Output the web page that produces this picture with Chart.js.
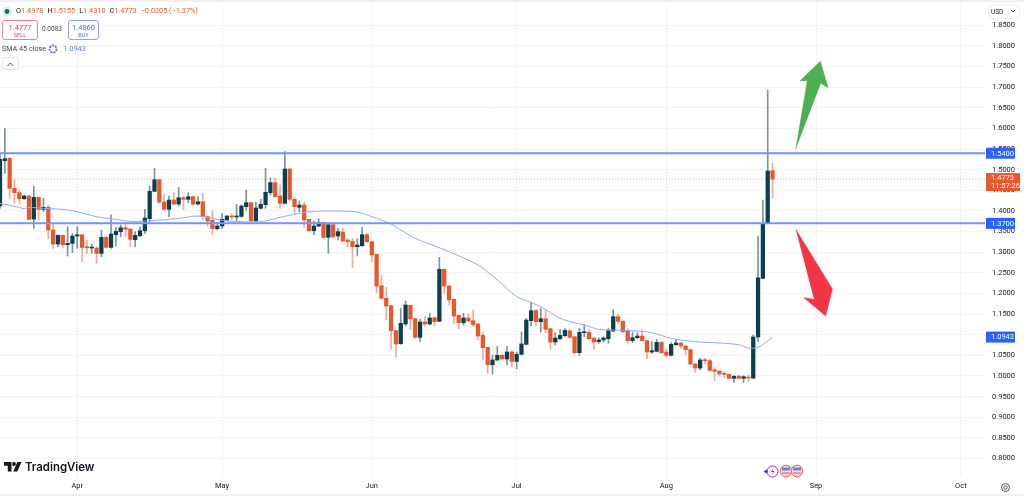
<!DOCTYPE html>
<html>
<head>
<meta charset="utf-8">
<style>
html, body { margin: 0; padding: 0; background: #fff; overflow: hidden; }
#wrap { position: relative; width: 1024px; height: 496px; font-family: Roboto, sans-serif; color: #131722; }
#c { position: absolute; left: 0; top: 0; }
.abs { position: absolute; white-space: nowrap; }
.ohlc { left: 16px; top: 6px; font-size: 7.3px; line-height: 10px; color: #e8582a; }
.ohlc b { font-weight: 400; color: #131722; }
.ohlc i { font-style: normal; margin-left: 4px; }
.box { border: 1px solid; border-radius: 3px; text-align: center; box-sizing: border-box; background: #fff; }
.box div { font-size: 7.5px; line-height: 9px; margin-top: 2px; }
.box span { display: block; font-size: 5.5px; line-height: 7px; }
.sma { left: 2px; top: 44px; font-size: 7.2px; line-height: 10px; color: #434651; }
.smaval { left: 63px; top: 44px; font-size: 7.5px; line-height: 10px; color: #5b82f0; }
.logo { left: 25px; top: 458px; font: 600 11.4px/18px Inter, sans-serif; color: #131722; }
.usd { left: 988px; top: 5px; width: 32px; height: 14px; border: 1px solid #eceef2; border-radius: 3px; box-sizing: border-box; font-size: 6.5px; line-height: 12px; padding-left: 2px; }
</style>
</head>
<body>
<div id="wrap">
  <canvas id="c" width="1024" height="496"></canvas>
  <div class="abs" style="left:0;top:0;width:1024px;height:2px;background:#eef0f3"></div>
  <div class="abs" style="left:0;top:494px;width:1024px;height:2px;background:#eef0f3"></div>
  <svg class="abs" style="left:1px;top:6px" width="12" height="12"><circle cx="6" cy="5.5" r="5" fill="#dcecea"/><circle cx="6" cy="5.5" r="2.4" fill="#0f6e62"/></svg>
  <div class="abs ohlc"><b>O</b>1.4978<i></i><b>H</b>1.5155<i></i><b>L</b>1.4310<i></i><b>C</b>1.4773<i></i>−0.0205 (−1.37%)</div>
  <div class="abs box" style="left:2px;top:20px;width:36px;height:20px;border-color:#f7828c;color:#f0455a"><div>1.4777<span>SELL</span></div></div>
  <div class="abs" style="left:42px;top:25px;font-size:6.5px;line-height:9px;color:#434651">0.0083</div>
  <div class="abs box" style="left:68px;top:20px;width:31px;height:20px;border-color:#8aa5f7;color:#4a78ee"><div>1.4860<span>BUY</span></div></div>
  <div class="abs sma">SMA 45 close</div>
  <svg class="abs" style="left:47px;top:43px" width="12" height="12"><circle cx="6" cy="6" r="3.5" fill="none" stroke="#7e6bf0" stroke-width="2" stroke-dasharray="2 1"/></svg>
  <div class="abs smaval">1.0943</div>
  <div class="abs box" style="left:2px;top:57px;width:17px;height:13px;border-color:#e4e6ea;color:#434651"><svg width="9" height="7" style="display:block;margin:3px auto"><path d="M1.5 5 L4.5 2 L7.5 5" fill="none" stroke="#434651" stroke-width="1"/></svg></div>
  <svg class="abs" style="left:4px;top:462px" width="18" height="11"><path d="M0 0h7.5v9.5h-3.7v-5.8H0z M8 0 h9.5 l-4.2 9.5 h-4 l4-9.5z" fill="#131722"/><circle cx="10" cy="2" r="1.9" fill="#131722"/></svg>
  <div class="abs logo">TradingView</div>
  <svg class="abs" style="left:763px;top:463px" width="42" height="17">
    <circle cx="9.5" cy="8.5" r="5.5" fill="#fff" stroke="#9c27b0" stroke-width="1"/>
    <path d="M10.5 5 L8 9 H10 L8.8 12 L11.5 8 H9.6z" fill="#9c27b0"/>
    <rect x="1.5" y="7" width="3" height="3" fill="#5e35b1" transform="rotate(45 3 8.5)"/>
    <circle cx="23" cy="8" r="5.8" fill="#fbd5d5" stroke="#f2605f" stroke-width="1"/><rect x="19" y="4.5" width="8" height="3" fill="#4e8fe8"/><rect x="19" y="9.5" width="8" height="1.2" fill="#f2605f"/>
    <circle cx="34" cy="8" r="5.8" fill="#fbd5d5" stroke="#f2605f" stroke-width="1"/><rect x="30" y="4.5" width="8" height="3" fill="#4e8fe8"/><rect x="30" y="9.5" width="8" height="1.2" fill="#f2605f"/>
  </svg>
  <div class="abs usd">USD<svg width="6" height="4" style="margin-left:7px;vertical-align:1px"><path d="M1 1 L3 3 L5 1" fill="none" stroke="#434651"/></svg></div>
  <svg class="abs" style="left:1000px;top:482px" width="11" height="11"><circle cx="5.5" cy="5.5" r="4" fill="none" stroke="#50535e"/><circle cx="5.5" cy="5.5" r="1.7" fill="none" stroke="#50535e"/></svg>
</div>
<script src="https://cdn.jsdelivr.net/npm/chart.js@4"></script>
<script>
// day numbers count from 1 Apr, first candle is 16 Mar
const FIRST_DAY = -16;
const monthDays = [0, 30, 61, 91, 122, 153, 183];
const monthNames = ['Apr', 'May', 'Jun', 'Jul', 'Aug', 'Sep', 'Oct'];
const priceTicks = [0.80, 0.85, 0.90, 0.95, 1.00, 1.05, 1.10, 1.15, 1.20, 1.25, 1.30, 1.35, 1.40, 1.45, 1.50, 1.55, 1.60, 1.65, 1.70, 1.75, 1.80, 1.85];

const opens = [
  1.4119, 1.5218, 1.5275, 1.4548, 1.4443, 1.4297, 1.4362, 1.3804, 1.4329, 1.4039, 1.4087, 1.3538, 1.3198, 1.3408, 1.3182, 1.3214,
  1.3392, 1.3424, 1.3125, 1.3101, 1.3101, 1.2972, 1.3360, 1.3117, 1.3424, 1.3497, 1.3594, 1.3562, 1.3303, 1.3400, 1.3521, 1.3812,
  1.4475, 1.4758, 1.4216, 1.4039, 1.4265, 1.4168, 1.4321, 1.4281, 1.4346, 1.4168, 1.4225, 1.3862, 1.3773, 1.3571, 1.3635, 1.3781,
  1.3878, 1.3854, 1.3870, 1.4104, 1.4201, 1.3757, 1.4064, 1.4153, 1.4443, 1.4686, 1.4363, 1.4185, 1.5017, 1.4282, 1.4088, 1.4144,
  1.3797, 1.3522, 1.3635, 1.3716, 1.3361, 1.3668, 1.3393, 1.3490, 1.3296, 1.3264, 1.3134, 1.3159, 1.3425, 1.3256, 1.2949, 1.2190,
  1.1883, 1.1705, 1.1099, 1.0784, 1.1261, 1.1713, 1.1390, 1.0937, 1.1309, 1.1261, 1.1414, 1.1325, 1.2586, 1.2182, 1.1858, 1.1470,
  1.1293, 1.1406, 1.1341, 1.1261, 1.0986, 1.0695, 1.0275, 1.0388, 1.0501, 1.0412, 1.0582, 1.0355, 1.0525, 1.0768, 1.1341, 1.1583,
  1.1316, 1.1389, 1.1147, 1.0824, 1.0904, 1.0977, 1.1098, 1.0953, 1.0565, 1.1050, 1.1058, 1.0921, 1.0832, 1.0872, 1.0904, 1.1090,
  1.1438, 1.1324, 1.1082, 1.0856, 1.0929, 1.0969, 1.0856, 1.0581, 1.0597, 1.0815, 1.0581, 1.0500, 1.0759, 1.0799, 1.0727, 1.0638,
  1.0290, 1.0193, 1.0395, 1.0371, 1.0153, 1.0121, 1.0064, 1.0040, 0.9943, 0.9999, 0.9943, 0.9967, 0.9950, 1.0945, 1.2366, 1.3699, 1.4978
];
const closes = [
  1.5251, 1.5267, 1.4548, 1.4443, 1.4297, 1.4362, 1.3796, 1.4329, 1.4039, 1.4087, 1.3538, 1.3198, 1.3408, 1.3182, 1.3214, 1.3392,
  1.3424, 1.3117, 1.3109, 1.3117, 1.2972, 1.3360, 1.3117, 1.3441, 1.3505, 1.3594, 1.3554, 1.3311, 1.3408, 1.3521, 1.3828, 1.4475,
  1.4758, 1.4216, 1.4039, 1.4265, 1.4168, 1.4321, 1.4281, 1.4346, 1.4168, 1.4224, 1.3862, 1.3757, 1.3571, 1.3635, 1.3797, 1.3878,
  1.3854, 1.3878, 1.4120, 1.4201, 1.3757, 1.4072, 1.4161, 1.4451, 1.4686, 1.4346, 1.4185, 1.5017, 1.4282, 1.4104, 1.4144, 1.3781,
  1.3522, 1.3635, 1.3716, 1.3361, 1.3668, 1.3377, 1.3498, 1.3272, 1.3256, 1.3134, 1.3175, 1.3425, 1.3256, 1.2932, 1.2182, 1.1883,
  1.1697, 1.1099, 1.0776, 1.1277, 1.1721, 1.1382, 1.0937, 1.1309, 1.1261, 1.1406, 1.1317, 1.2586, 1.2182, 1.1842, 1.1454, 1.1293,
  1.1406, 1.1333, 1.1244, 1.0970, 1.0687, 1.0275, 1.0388, 1.0501, 1.0412, 1.0582, 1.0355, 1.0525, 1.0776, 1.1357, 1.1583, 1.1316,
  1.1389, 1.1131, 1.0824, 1.0921, 1.0985, 1.1106, 1.0937, 1.0565, 1.1058, 1.1066, 1.0904, 1.0824, 1.0872, 1.0921, 1.1098, 1.1438,
  1.1324, 1.1074, 1.0856, 1.0929, 1.0969, 1.0856, 1.0581, 1.0613, 1.0815, 1.0565, 1.0500, 1.0767, 1.0799, 1.0727, 1.0638, 1.0290,
  1.0193, 1.0387, 1.0371, 1.0137, 1.0113, 1.0048, 1.0040, 0.9943, 0.9991, 0.9943, 0.9983, 0.9950, 1.0945, 1.2380, 1.3699, 1.4968, 1.4773
];
const highs = [
  1.5396, 1.5998, 1.5299, 1.4750, 1.4507, 1.4386, 1.4378, 1.4604, 1.4346, 1.4305, 1.4144, 1.3699, 1.3424, 1.3416, 1.3618, 1.3457,
  1.3618, 1.3432, 1.3295, 1.3198, 1.3134, 1.3538, 1.3376, 1.3901, 1.3602, 1.3659, 1.3699, 1.3578, 1.3497, 1.3618, 1.4039, 1.4604,
  1.5032, 1.4766, 1.4410, 1.4362, 1.4443, 1.4572, 1.4362, 1.4443, 1.4362, 1.4346, 1.4427, 1.3878, 1.4007, 1.3720, 1.3942, 1.3886,
  1.3926, 1.4161, 1.4144, 1.4508, 1.4217, 1.4217, 1.4282, 1.5033, 1.4807, 1.4791, 1.4629, 1.5437, 1.5033, 1.4330, 1.4241, 1.4225,
  1.3797, 1.3757, 1.3813, 1.3732, 1.3676, 1.3676, 1.3579, 1.3579, 1.3328, 1.3328, 1.3328, 1.3603, 1.3458, 1.3256, 1.2957, 1.2432,
  1.2149, 1.1713, 1.1107, 1.1640, 1.1818, 1.1721, 1.1398, 1.1374, 1.1438, 1.1519, 1.1438, 1.2876, 1.2594, 1.2190, 1.1866, 1.1478,
  1.1519, 1.1519, 1.1600, 1.1277, 1.1050, 1.0703, 1.0509, 1.0711, 1.0533, 1.0711, 1.0614, 1.0582, 1.1067, 1.1398, 1.1793, 1.1615,
  1.1640, 1.1615, 1.1155, 1.1050, 1.1131, 1.1147, 1.1114, 1.0953, 1.1155, 1.1244, 1.1131, 1.0921, 1.0929, 1.0953, 1.1163, 1.1599,
  1.1502, 1.1357, 1.1147, 1.1066, 1.1050, 1.1114, 1.0872, 1.0832, 1.0888, 1.0832, 1.0646, 1.0807, 1.0888, 1.0807, 1.0743, 1.0646,
  1.0306, 1.0428, 1.0428, 1.0403, 1.0210, 1.0121, 1.0104, 1.0048, 1.0016, 1.0007, 1.0007, 1.0024, 1.0993, 1.3390, 1.4265, 1.6931, 1.5155
];
const lows = [
  1.4063, 1.4911, 1.4305, 1.4184, 1.4184, 1.4281, 1.3780, 1.3578, 1.3780, 1.3982, 1.3336, 1.3093, 1.3134, 1.3117, 1.2907, 1.2988,
  1.3093, 1.2770, 1.2972, 1.2972, 1.2730, 1.2891, 1.3101, 1.3093, 1.3150, 1.3376, 1.3376, 1.3134, 1.3134, 1.3376, 1.3457, 1.3740,
  1.4467, 1.4184, 1.4022, 1.3861, 1.4144, 1.4119, 1.4039, 1.4200, 1.4136, 1.4144, 1.3781, 1.3635, 1.3417, 1.3538, 1.3579, 1.3773,
  1.3781, 1.3765, 1.3845, 1.4023, 1.3740, 1.3740, 1.4047, 1.4064, 1.4387, 1.4330, 1.4064, 1.4169, 1.4250, 1.3926, 1.3983, 1.3603,
  1.3498, 1.3417, 1.3619, 1.3336, 1.2973, 1.3344, 1.3296, 1.3256, 1.3134, 1.2633, 1.2908, 1.3134, 1.3231, 1.2771, 1.2020, 1.1858,
  1.1357, 1.0646, 1.0452, 1.0768, 1.1212, 1.1131, 1.0913, 1.0832, 1.1212, 1.1236, 1.1212, 1.1317, 1.2004, 1.1721, 1.1277, 1.1147,
  1.1236, 1.1309, 1.1196, 1.0873, 1.0404, 1.0065, 1.0048, 1.0372, 1.0404, 1.0267, 1.0226, 1.0178, 1.0509, 1.0751, 1.1211, 1.1211,
  1.1058, 1.1050, 1.0646, 1.0751, 1.0872, 1.0953, 1.0912, 1.0533, 1.0500, 1.0953, 1.0856, 1.0646, 1.0791, 1.0824, 1.0791, 1.1074,
  1.1260, 1.1050, 1.0807, 1.0807, 1.0904, 1.0840, 1.0420, 1.0549, 1.0581, 1.0533, 1.0468, 1.0484, 1.0743, 1.0670, 1.0508, 1.0274,
  1.0088, 1.0145, 1.0290, 1.0121, 0.9886, 1.0016, 0.9967, 0.9935, 0.9838, 0.9927, 0.9838, 0.9854, 0.9935, 1.0830, 1.2360, 1.3690, 1.4310
];

const smaDays = [-16, -12, -11, -10, -7, -3, 0, 4, 8, 11, 13, 17, 21, 25, 28, 31, 38, 42, 46, 49, 53, 58, 61, 65, 67, 70, 74, 77, 83, 87, 91, 93, 96, 100, 105, 108, 111, 115, 119, 123, 128, 132, 137, 139, 141, 144];
const smaValues = [1.4184, 1.4087, 1.4055, 1.4087, 1.4063, 1.4039, 1.3982, 1.3861, 1.3796, 1.3748, 1.3748, 1.3780, 1.3820, 1.3877, 1.3820, 1.3757, 1.3740, 1.3845, 1.3942, 1.3990, 1.3999, 1.3975, 1.3860, 1.3684, 1.3538, 1.3337, 1.3151, 1.3014, 1.2690, 1.2327, 1.1923, 1.1826, 1.1680, 1.1397, 1.1236, 1.1131, 1.1114, 1.1098, 1.1050, 1.0912, 1.0832, 1.0807, 1.0759, 1.0678, 1.0694, 1.0943];

const levels = [1.54, 1.37];
const lastClose = 1.4773;
const greenArrowDays = [148.8, 151.2, 149.7, 153.9, 155.5, 154.0];
const greenArrowPrices = [1.5494, 1.7157, 1.7157, 1.7627, 1.6987, 1.7094];
const redArrowDays = [148.8, 156.4, 155.0, 150.5, 152.6];
const redArrowPrices = [1.3555, 1.2109, 1.1454, 1.1898, 1.1859];

const X_MIN = -16, X_MAX = 188;
const UP = '#0b3f4f', DOWN = '#e8582a';
const UP_WICK = 'rgba(11,63,79,0.55)', DOWN_WICK = 'rgba(232,88,42,0.5)';
const BLUE = '#6f95f7';

function pairs(xs, ys) {
  return xs.map((x, i) => ({ x: x, y: ys[i] }));
}

function hLine(value, color, width, dash, order) {
  return {
    type: 'line',
    data: [{ x: X_MIN, y: value }, { x: X_MAX, y: value }],
    borderColor: color,
    borderWidth: width,
    borderDash: dash,
    pointRadius: 0,
    order: order
  };
}

function arrow(days, prices, color) {
  return {
    type: 'line',
    data: pairs(days, prices),
    backgroundColor: color,
    borderColor: color,
    borderWidth: 0.5,
    fill: 'shape',
    tension: 0,
    pointRadius: 0,
    order: 0
  };
}

const isUp = closes.map((c, i) => c >= opens[i]);

// price badges on the axis, text is placed from the y scale
const badges = {
  id: 'badges',
  afterDraw(chart) {
    const ctx = chart.ctx;
    const y = chart.scales.y;
    ctx.save();
    ctx.textBaseline = 'middle';
    ctx.font = '7.5px Roboto';
    [levels[0], levels[1], smaValues[smaValues.length - 1]].forEach(v => {
      const py = y.getPixelForValue(v);
      ctx.fillStyle = '#2962ff';
      ctx.fillRect(986, py - 5.5, 29, 11);
      ctx.fillStyle = '#fff';
      ctx.fillText(v.toFixed(4), 991, py + 0.5);
    });
    const py = y.getPixelForValue(lastClose);
    ctx.fillStyle = DOWN;
    ctx.fillRect(986, py - 6, 34, 18);
    ctx.fillStyle = '#fff';
    ctx.fillText(lastClose.toFixed(4), 991, py - 1);
    ctx.fillText('11:57:26', 991, py + 7);
    ctx.restore();
  }
};

new Chart(document.getElementById('c').getContext('2d'), {
  data: {
    datasets: [
      hLine(levels[0], BLUE, 2, [], 1),
      hLine(levels[1], BLUE, 2, [], 1),
      hLine(lastClose, 'rgba(232,88,42,0.45)', 1, [1, 2], 4),
      {
        type: 'line',
        data: pairs(smaDays, smaValues),
        borderColor: '#8fabfa',
        borderWidth: 1,
        pointRadius: 0,
        tension: 0.3,
        order: 1
      },
      {
        type: 'bar',
        data: opens.map((o, i) => ({ x: FIRST_DAY + i, y: [o, closes[i]] })),
        backgroundColor: isUp.map(u => u ? UP : DOWN),
        barThickness: 3.6,
        minBarLength: 1,
        grouped: false,
        order: 2
      },
      {
        type: 'bar',
        data: lows.map((l, i) => ({ x: FIRST_DAY + i, y: [l, highs[i]] })),
        backgroundColor: isUp.map(u => u ? UP_WICK : DOWN_WICK),
        barThickness: 1,
        grouped: false,
        order: 3
      },
      arrow(greenArrowDays, greenArrowPrices, '#4caf50'),
      arrow(redArrowDays, redArrowPrices, '#f23645')
    ]
  },
  options: {
    responsive: false,
    animation: false,
    layout: { padding: { top: 5, left: 0, right: 0, bottom: 0 } },
    plugins: { legend: { display: false }, tooltip: { enabled: false } },
    scales: {
      x: {
        type: 'linear',
        offset: false,
        min: X_MIN,
        max: X_MAX,
        afterBuildTicks: s => { s.ticks = monthDays.map(d => ({ value: d })); },
        afterFit: s => { s.height = 19; s.paddingLeft = 0; s.paddingRight = 0; },
        grid: { color: '#f3f4f6', drawTicks: false, offset: false },
        border: { display: false },
        ticks: {
          autoSkip: false,
          maxRotation: 0,
          padding: 5,
          color: '#131722',
          font: { family: 'Roboto', size: 7.5 },
          callback: v => monthNames[monthDays.indexOf(v)]
        }
      },
      y: {
        position: 'right',
        min: 0.7552,
        max: 1.8992,
        afterBuildTicks: s => { s.ticks = priceTicks.map(v => ({ value: v })); },
        afterFit: s => { s.width = 39; s.paddingTop = 0; s.paddingBottom = 0; },
        grid: { color: '#f3f4f6', drawTicks: false },
        border: { display: false },
        ticks: {
          autoSkip: false,
          padding: 7,
          color: '#131722',
          font: { family: 'Roboto', size: 7.5 },
          callback: v => v.toFixed(4)
        }
      }
    }
  },
  plugins: [badges]
});
</script>
</body>
</html>
